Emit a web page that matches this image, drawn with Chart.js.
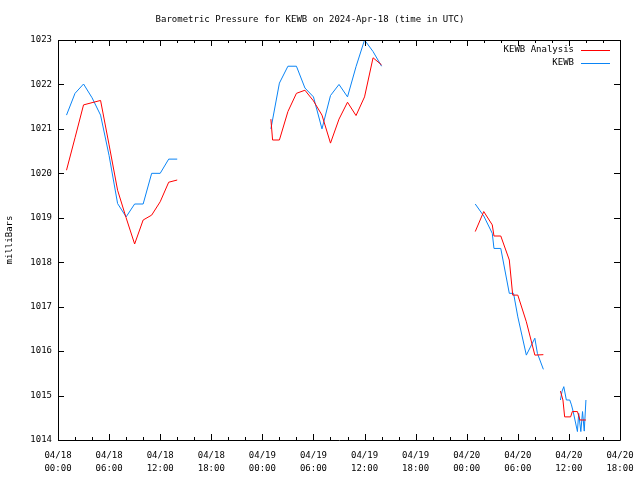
<!DOCTYPE html>
<html>
<head>
    <title>Barometric Pressure for KEWB</title>
    <script src="https://cdn.jsdelivr.net/npm/chart.js"></script>
    <style>
        body { margin: 0; background: #fff; }
        canvas { display: block; }
    </style>
</head>
<body>
    <canvas id="pressureChart" width="640" height="480"></canvas>

    <script>
        // hours since 04/18 00:00 UTC; null value = gap in the record
        const analysisHours = [1, 2, 3, 4, 5, 6, 7, 8, 9, 10, 11, 12, 13, 14,
            20,
            25, 25.2, 26, 27, 28, 29, 30, 31, 32, 33, 34, 35, 36, 37, 38,
            45,
            49, 50, 51, 51.2, 52, 53, 53.4, 54, 55, 56, 57,
            58,
            59, 59.3, 59.5, 60.2, 60.4, 61, 61.3, 62];
        const analysisMb = [1020.07, 1020.8, 1021.54, 1021.59, 1021.64, 1020.64, 1019.62, 1019.0, 1018.41, 1018.95, 1019.06, 1019.36, 1019.80, 1019.85,
            null,
            1021.22, 1020.75, 1020.75, 1021.39, 1021.80, 1021.87, 1021.63, 1021.31, 1020.68, 1021.22, 1021.60, 1021.30, 1021.72, 1022.60, 1022.44,
            null,
            1018.69, 1019.14, 1018.84, 1018.59, 1018.59, 1018.05, 1017.26, 1017.26, 1016.66, 1015.91, 1015.92,
            null,
            1015.10, 1014.90, 1014.52, 1014.52, 1014.64, 1014.64, 1014.45, 1014.45];

        const kewbHours = [1, 2, 3, 4, 5, 6, 7, 8, 9, 10, 11, 12, 13, 14,
            20,
            25, 26, 27, 28, 29, 30, 31, 32, 33, 34, 35, 36, 37, 38,
            45,
            49, 50, 51, 51.2, 52, 53, 53.5, 54, 55, 56, 56.3, 57,
            58,
            59, 59.2, 59.4, 59.7, 60.1, 60.3, 60.5, 61, 61.15, 61.4, 61.6, 61.8, 62];
        const kewbMb = [1021.31, 1021.80, 1022.01, 1021.70, 1021.31, 1020.40, 1019.32, 1019.02, 1019.31, 1019.31, 1020.0, 1020.0, 1020.32, 1020.32,
            null,
            1021.0, 1022.03, 1022.41, 1022.41, 1021.92, 1021.72, 1021.0, 1021.75, 1022.0, 1021.72, 1022.40, 1023.0, 1022.74, 1022.41,
            null,
            1019.31, 1019.04, 1018.65, 1018.31, 1018.31, 1017.30, 1017.30, 1016.77, 1015.91, 1016.29, 1015.95, 1015.59,
            null,
            1014.9, 1015.1, 1015.2, 1014.9, 1014.9, 1014.79, 1014.64, 1014.19, 1014.6, 1014.19, 1014.64, 1014.2, 1014.9];

        // x tick labels, one per 6 hours
        const xDates = ['04/18', '04/18', '04/18', '04/18', '04/19', '04/19', '04/19', '04/19', '04/20', '04/20', '04/20', '04/20'];
        const xTimes = ['00:00', '06:00', '12:00', '18:00', '00:00', '06:00', '12:00', '18:00', '00:00', '06:00', '12:00', '18:00'];
        const yMin = 1014, yMax = 1023;

        const FONT = "'DejaVu Sans Mono', monospace";

        function toPoints(xs, ys) {
            return xs.map((h, i) => ({ x: h, y: ys[i] }));
        }

        // gnuplot style frame, inward ticks and legend
        const framePlugin = {
            id: 'frame',
            afterDraw(chart) {
                const ctx = chart.ctx;
                const a = chart.chartArea;
                const xs = chart.scales.x, ys = chart.scales.y;
                ctx.save();
                ctx.strokeStyle = '#000';
                ctx.lineWidth = 1;
                ctx.beginPath();
                ctx.rect(Math.round(a.left) + 0.5, Math.round(a.top) + 0.5,
                    Math.round(a.right - a.left), Math.round(a.bottom - a.top));
                for (let h = 0; h <= 66; h += 2) {
                    const px = Math.round(xs.getPixelForValue(h)) + 0.5;
                    const len = h % 6 === 0 ? 6 : 3;
                    ctx.moveTo(px, a.bottom); ctx.lineTo(px, a.bottom - len);
                    ctx.moveTo(px, a.top); ctx.lineTo(px, a.top + len);
                }
                for (let v = yMin; v <= yMax; v++) {
                    const py = Math.round(ys.getPixelForValue(v)) + 0.5;
                    ctx.moveTo(a.left, py); ctx.lineTo(a.left + 6, py);
                    ctx.moveTo(a.right, py); ctx.lineTo(a.right - 6, py);
                }
                ctx.stroke();

                // legend
                ctx.font = '9px ' + FONT;
                ctx.textAlign = 'right';
                ctx.textBaseline = 'middle';
                chart.data.datasets.forEach((ds, i) => {
                    const yy = a.top + 10 + i * 13;
                    ctx.fillStyle = '#000';
                    ctx.fillText(ds.label, a.right - 46, yy);
                    ctx.strokeStyle = ds.borderColor;
                    ctx.beginPath();
                    ctx.moveTo(a.right - 39, Math.round(yy) + 0.5);
                    ctx.lineTo(a.right - 10, Math.round(yy) + 0.5);
                    ctx.stroke();
                });
                ctx.restore();
            }
        };

        new Chart(document.getElementById('pressureChart'), {
            type: 'line',
            data: {
                datasets: [{
                    label: 'KEWB Analysis',
                    data: toPoints(analysisHours, analysisMb),
                    borderColor: '#ff0000',
                    borderWidth: 1,
                    pointRadius: 0,
                    tension: 0,
                    spanGaps: false
                }, {
                    label: 'KEWB',
                    data: toPoints(kewbHours, kewbMb),
                    borderColor: '#0a84f5',
                    borderWidth: 1,
                    pointRadius: 0,
                    tension: 0,
                    spanGaps: false
                }]
            },
            options: {
                responsive: false,
                animation: false,
                layout: { padding: { left: 0, right: 20, top: 0, bottom: 0 } },
                plugins: {
                    legend: { display: false },
                    tooltip: { enabled: false },
                    title: {
                        display: true,
                        text: 'Barometric Pressure for KEWB on 2024-Apr-18 (time in UTC)',
                        color: '#000',
                        font: { family: FONT, size: 9, weight: 'normal', lineHeight: 1.2 },
                        padding: { top: 14, bottom: 15.2 }
                    }
                },
                scales: {
                    x: {
                        type: 'linear',
                        min: 0,
                        max: 66,
                        grid: { display: false, drawTicks: false },
                        border: { display: false },
                        ticks: {
                            stepSize: 6,
                            autoSkip: false,
                            maxRotation: 0,
                            padding: 10,
                            color: '#000',
                            font: { family: FONT, size: 9, lineHeight: 1.35 },
                            callback: (v) => {
                                const i = Math.round(v / 6);
                                return [xDates[i], xTimes[i]];
                            }
                        },
                        afterFit: (s) => {
                            s.height = 40;
                            s.paddingLeft = 0;
                            s.paddingRight = 0;
                        }
                    },
                    y: {
                        min: yMin,
                        max: yMax,
                        grid: { display: false, drawTicks: false },
                        border: { display: false },
                        ticks: {
                            stepSize: 1,
                            padding: 6,
                            color: '#000',
                            font: { family: FONT, size: 9 },
                            callback: (v) => String(v)
                        },
                        title: {
                            display: true,
                            text: 'milliBars',
                            color: '#000',
                            font: { family: FONT, size: 9 },
                            padding: { top: 4, bottom: 0 }
                        },
                        afterFit: (s) => { s.width = 58; }
                    }
                }
            },
            plugins: [framePlugin]
        });
    </script>
</body>
</html>
